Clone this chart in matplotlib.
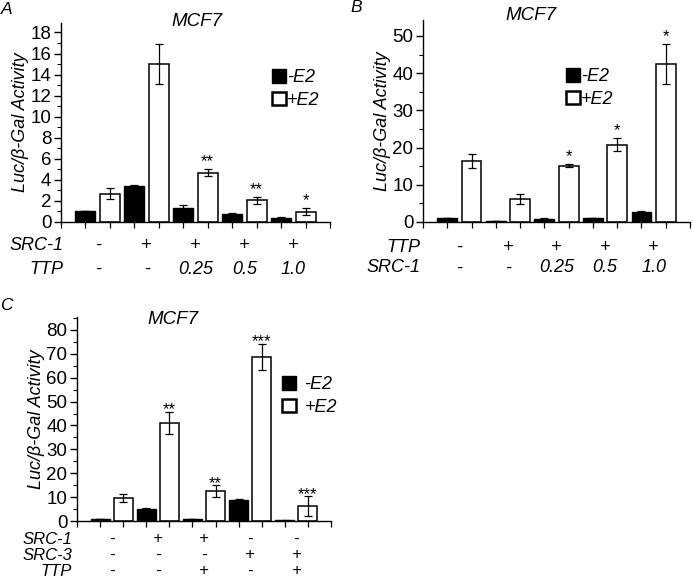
import matplotlib
matplotlib.use('Agg')
import matplotlib.pyplot as plt
from matplotlib.patches import Patch
import numpy as np

plt.rcParams['font.family'] = ['Liberation Sans', 'DejaVu Sans']

W, H = 693, 579

# ---------------- data ----------------
# Panel A
a_minus = [1.0, 3.42, 1.33, 0.73, 0.38]
a_minus_err = [0.0, 0.12, 0.27, 0.12, 0.05]
a_plus = [2.7, 15.0, 4.7, 2.06, 0.99]
a_plus_err = [0.5, 1.88, 0.32, 0.35, 0.32]
a_stars = ['', '', '**', '**', '*']
a_src1 = ['-', '+', '+', '+', '+']
a_ttp = ['-', '-', '0.25', '0.5', '1.0']

# Panel B
b_minus = [1.0, 0.4, 0.9, 1.1, 2.6]
b_minus_err = [0.0, 0.0, 0.3, 0.0, 0.35]
b_plus = [16.3, 6.2, 15.1, 20.8, 42.4]
b_plus_err = [1.85, 1.3, 0.4, 1.8, 5.4]
b_stars = ['', '', '*', '*', '*']
b_ttp = ['-', '+', '+', '+', '+']
b_src1 = ['-', '-', '0.25', '0.5', '1.0']

# Panel C
c_minus = [1.0, 5.0, 0.7, 8.65, 0.4]
c_minus_err = [0.0, 0.3, 0.0, 0.6, 0.2]
c_plus = [9.8, 41.1, 12.5, 68.8, 6.1]
c_plus_err = [1.65, 4.7, 2.4, 5.4, 4.2]
c_stars = ['', '**', '**', '***', '***']
c_src1 = ['-', '+', '+', '-', '-']
c_src3 = ['-', '-', '-', '+', '+']
c_ttp = ['-', '-', '+', '-', '+']

legend_labels = ['-E2', '+E2']

fig = plt.figure(figsize=(W / 100, H / 100), dpi=100)


def panel(rect, ymax, ystep, minus, minus_err, plus, plus_err, stars, star_off,
          rows, rows_y, name_right, row_fs, title_xy, letter, letter_xy, leg_xy, leg_pad):
    left, top, right, bottom = rect
    ax = fig.add_axes([left / W, 1 - bottom / H, (right - left) / W, (bottom - top) / H])
    n = len(minus)
    xm = np.arange(n) * 2 + 1
    xp = xm + 1
    bw = 0.82
    ax.bar(xm, minus, width=bw, color='black', edgecolor='black', linewidth=1.0, zorder=2)
    ax.bar(xp, plus, width=bw, color='white', edgecolor='black', linewidth=1.1, zorder=2)
    ax.errorbar(xm, minus, yerr=minus_err, fmt='none', ecolor='black',
                elinewidth=0.9, capsize=3, capthick=0.9, zorder=3)
    ax.errorbar(xp, plus, yerr=plus_err, fmt='none', ecolor='black',
                elinewidth=0.9, capsize=3, capthick=0.9, zorder=3)
    for x, v, e, s in zip(xp, plus, plus_err, stars):
        if s:
            ax.annotate(s, (x, v + e), xytext=(0, star_off), textcoords='offset points',
                        ha='center', va='baseline', fontsize=12)
    ax.set_xlim(0, 2 * n + 1)
    ax.set_ylim(0, ymax)
    ax.set_xticks(np.arange(0, 2 * n + 2))
    ax.set_xticklabels([])
    yt = np.arange(0, ymax, ystep)
    ax.set_yticks(yt)
    ax.set_yticklabels([f'{int(t)}' for t in yt])
    ax.set_yticks(np.arange(ystep / 2, ymax, ystep), minor=True)
    ax.tick_params(axis='y', which='major', direction='out', length=5, width=1,
                   labelsize=13.5, pad=2)
    ax.tick_params(axis='y', which='minor', direction='out', length=3, width=0.8)
    ax.tick_params(axis='x', which='major', direction='out', length=4, width=0.9)
    for sp in ['top', 'right']:
        ax.spines[sp].set_visible(False)
    for sp in ['left', 'bottom']:
        ax.spines[sp].set_linewidth(1.0)
    ax.set_ylabel('Luc/β-Gal Activity', fontsize=13, style='italic', labelpad=1)
    # row labels
    hpx = bottom - top
    wpx = right - left
    centers = xm + 0.5
    for (name, vals), ypx in zip(rows, rows_y):
        ya = -(ypx - bottom) / hpx
        ax.text((name_right - left) / wpx, ya, name, transform=ax.transAxes,
                ha='right', va='center', fontsize=row_fs, style='italic', clip_on=False)
        for c, v in zip(centers, vals):
            ax.text(c, ya, v, transform=ax.get_xaxis_transform(), ha='center',
                    va='center', fontsize=row_fs, style='italic', clip_on=False)
    fig.text(title_xy[0] / W, 1 - title_xy[1] / H, 'MCF7', ha='center', va='center',
             fontsize=13.5, style='italic')
    fig.text(letter_xy[0] / W, 1 - letter_xy[1] / H, letter, ha='center', va='center',
             fontsize=12.5, style='italic')
    handles = [Patch(facecolor='black', edgecolor='black', linewidth=1.0),
               Patch(facecolor='white', edgecolor='black', linewidth=1.8)]
    ax.legend(handles, legend_labels, loc='upper left',
              bbox_to_anchor=(leg_xy[0] / W, 1 - leg_xy[1] / H),
              bbox_transform=fig.transFigure, frameon=False, handlelength=0.8,
              handleheight=0.8, handletextpad=leg_pad, labelspacing=0.3, borderpad=0,
              borderaxespad=0, prop=dict(style='italic', size=13))
    return ax


panel((61, 23, 330, 222), 18.9, 2, a_minus, a_minus_err, a_plus, a_plus_err, a_stars, 2,
      [('SRC-1', a_src1), ('TTP', a_ttp)], [245, 269], 63, 13,
      (197, 22), 'A', (7, 9), (272, 69), 0.05)

panel((423, 20, 690, 222), 54.3, 10, b_minus, b_minus_err, b_plus, b_plus_err, b_stars, 2,
      [('TTP', b_ttp), ('SRC-1', b_src1)], [247, 268], 420, 13,
      (531, 16), 'B', (356, 7), (566, 68), 0.05)

panel((77, 317, 331, 521), 85.4, 10, c_minus, c_minus_err, c_plus, c_plus_err, c_stars, -2,
      [('SRC-1', c_src1), ('SRC-3', c_src3), ('TTP', c_ttp)], [539, 555, 571], 72, 12,
      (173, 319), 'C', (6, 306), (282, 376), 0.45)

fig.savefig('out.png', dpi=100)
